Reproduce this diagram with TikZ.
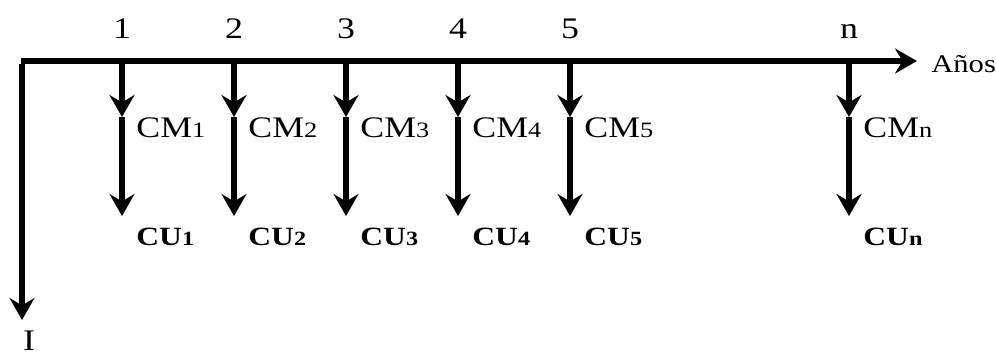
\documentclass[tikz,border=0pt]{standalone}
\usepackage{fontspec}
\setmainfont{Liberation Serif}[FakeStretch=1.2]
\usetikzlibrary{arrows.meta}

\newcommand{\cmlab}[1]{CM{\fontsize{12.5}{14}\selectfont #1}}
\newcommand{\culab}[1]{\textbf{CU{\fontsize{11.5}{13}\selectfont #1}}}

\tikzset{
    flow/.style={line width=3.3pt, -{Stealth[length=0.44cm, width=0.5cm, inset=0.15cm]}},
    yearlab/.style={inner sep=0pt, anchor=base, font=\fontsize{17}{20}\selectfont},
    cmtext/.style={inner sep=0pt, anchor=base west, font=\fontsize{17}{20}\selectfont},
    cutext/.style={inner sep=0pt, anchor=base west, font=\fontsize{15}{18}\selectfont},
}

\begin{document}
\begin{tikzpicture}[x=0.02cm, y=-0.02cm]
        \useasboundingbox (0,0) rectangle (996,356);

        % time axis and investment
        \coordinate (o) at (21, 61);
        \coordinate (axend) at (917, 61);
        \coordinate (inv) at (22, 320);
        \draw[flow] (o) -- (axend);
        \draw[flow] (22, 64) -- (inv);

        % points on the axis
        \coordinate (t1) at (122, 61);
        \coordinate (t2) at (234, 61);
        \coordinate (t3) at (346, 61);
        \coordinate (t4) at (458, 61);
        \coordinate (t5) at (570, 61);
        \coordinate (tn) at (849, 61);

        \coordinate (m1) at (122, 117);
        \coordinate (m2) at (234, 117);
        \coordinate (m3) at (346, 117);
        \coordinate (m4) at (458, 117);
        \coordinate (m5) at (570, 117);
        \coordinate (mn) at (849, 117);

        \coordinate (u1) at (122, 216);
        \coordinate (u2) at (234, 216);
        \coordinate (u3) at (346, 216);
        \coordinate (u4) at (458, 216);
        \coordinate (u5) at (570, 216);
        \coordinate (un) at (849, 216);

        \draw[flow] (t1) -- (m1);
        \draw[flow] (t2) -- (m2);
        \draw[flow] (t3) -- (m3);
        \draw[flow] (t4) -- (m4);
        \draw[flow] (t5) -- (m5);
        \draw[flow] (tn) -- (mn);

        \draw[flow] (m1) -- (u1);
        \draw[flow] (m2) -- (u2);
        \draw[flow] (m3) -- (u3);
        \draw[flow] (m4) -- (u4);
        \draw[flow] (m5) -- (u5);
        \draw[flow] (mn) -- (un);

        % labels
        \node[yearlab] (y1) at (122, 38) {1};
        \node[yearlab] (y2) at (234, 38) {2};
        \node[yearlab] (y3) at (346, 38) {3};
        \node[yearlab] (y4) at (458, 38) {4};
        \node[yearlab] (y5) at (570, 38) {5};
        \node[yearlab] (yn) at (849, 38) {n};
        \node[inner sep=0pt, anchor=base west, font=\fontsize{14.5}{17}\selectfont] (anos) at (931, 72) {Años};
        \node[yearlab] (ilab) at (29, 350) {I};

        \node[cmtext] (cm1) at (136, 137) {\cmlab{1}};
        \node[cmtext] (cm2) at (248, 137) {\cmlab{2}};
        \node[cmtext] (cm3) at (360, 137) {\cmlab{3}};
        \node[cmtext] (cm4) at (472, 137) {\cmlab{4}};
        \node[cmtext] (cm5) at (584, 137) {\cmlab{5}};
        \node[cmtext] (cmn) at (863, 137) {\cmlab{n}};

        \node[cutext] (cu1) at (136, 245) {\culab{1}};
        \node[cutext] (cu2) at (248, 245) {\culab{2}};
        \node[cutext] (cu3) at (360, 245) {\culab{3}};
        \node[cutext] (cu4) at (472, 245) {\culab{4}};
        \node[cutext] (cu5) at (584, 245) {\culab{5}};
        \node[cutext] (cun) at (863, 245) {\culab{n}};

    \end{tikzpicture}
\end{document}
